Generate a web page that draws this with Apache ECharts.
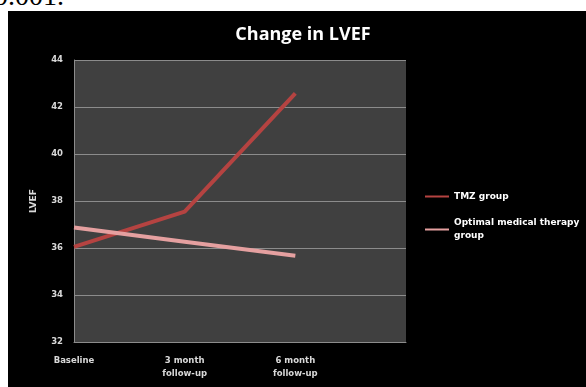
<!DOCTYPE html>
<html>
<head>
<meta charset="UTF-8">
<title>Change in LVEF</title>
<script src="https://cdn.jsdelivr.net/npm/echarts@6/dist/echarts.min.js"></script>
<style>
  body { margin: 0; background: #fff; width: 586px; height: 387px; overflow: hidden; position: relative; }
  #note { position: absolute; left: -6px; top: -19px; font-family: "Liberation Serif", serif; font-size: 28px; color: #000; line-height: 30px; }
  #main { position: absolute; left: 8px; top: 11px; width: 578px; height: 376px; background: #000; }
</style>
</head>
<body>
<div id="note">0.001.</div>
<div id="main"></div>
<script>
  var categories = ['Baseline', '3 month\nfollow-up', '6 month\nfollow-up', ''];
  var tmzGroup = [36.05, 37.55, 42.58];
  var omtGroup = [36.87, 36.27, 35.67];
  var yTicks = { min: 32, max: 44, interval: 2 };

  var labelFont = { color: '#d9d9d9', fontFamily: 'DejaVu Sans', fontWeight: 'bold', fontSize: 8.5 };

  var chart = echarts.init(document.getElementById('main'));
  chart.setOption({
    backgroundColor: '#000',
    animation: false,
    title: {
      text: 'Change in LVEF',
      left: 290, top: 10,
      textAlign: 'center',
      textStyle: { color: '#fff', fontFamily: 'Open Sans', fontWeight: 'bold', fontSize: 18 }
    },
    legend: [{
      data: ['TMZ group'],
      left: 417, top: 181, padding: 0,
      icon: 'rect', itemWidth: 24, itemHeight: 2,
      textStyle: { color: '#fff', fontFamily: 'DejaVu Sans', fontWeight: 'bold', fontSize: 9 }
    }, {
      data: ['Optimal medical therapy group'],
      left: 417, top: 199, padding: 0,
      icon: 'rect', itemWidth: 24, itemHeight: 2,
      formatter: function () { return 'Optimal medical therapy\ngroup'; },
      textStyle: { color: '#fff', fontFamily: 'DejaVu Sans', fontWeight: 'bold', fontSize: 9, lineHeight: 13, padding: [13, 0, 0, 0] }
    }],
    grid: {
      left: 66, right: 180, top: 49, bottom: 45,
      show: true, backgroundColor: '#404040', borderWidth: 0
    },
    xAxis: {
      type: 'category',
      data: categories,
      boundaryGap: false,
      axisLine: { lineStyle: { color: '#8c8c8c', width: 1 } },
      axisTick: { show: false },
      axisLabel: Object.assign({ margin: 12, lineHeight: 13 }, labelFont),
      splitLine: { show: false }
    },
    yAxis: {
      type: 'value',
      min: yTicks.min, max: yTicks.max, interval: yTicks.interval,
      name: 'LVEF',
      nameLocation: 'middle',
      nameGap: 36,
      nameTextStyle: Object.assign({}, labelFont, { fontSize: 9 }),
      axisLine: { show: true, lineStyle: { color: '#8c8c8c', width: 1 } },
      axisTick: { show: false },
      axisLabel: Object.assign({ margin: 11 }, labelFont),
      splitLine: { lineStyle: { color: '#8c8c8c', width: 1 } }
    },
    series: [{
      name: 'TMZ group',
      type: 'line',
      data: tmzGroup,
      showSymbol: false,
      lineStyle: { color: '#b54341', width: 4 },
      itemStyle: { color: '#b54341' }
    }, {
      name: 'Optimal medical therapy group',
      type: 'line',
      data: omtGroup,
      showSymbol: false,
      lineStyle: { color: '#e5a0a0', width: 4 },
      itemStyle: { color: '#e5a0a0' }
    }]
  });
</script>
</body>
</html>
